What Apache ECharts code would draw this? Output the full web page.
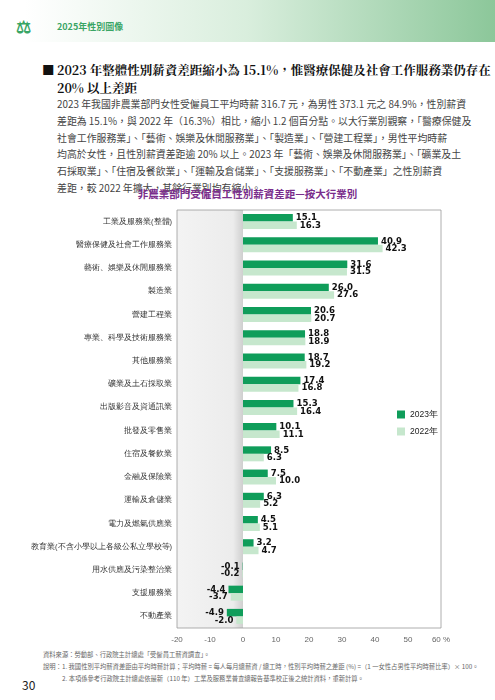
<!DOCTYPE html>
<html><head><meta charset="utf-8">
<script src="https://cdn.jsdelivr.net/npm/echarts@6/dist/echarts.min.js"></script>
<style>
body{margin:0;width:495px;height:700px;position:relative;background:#fff;font-family:"Noto Sans CJK TC",sans-serif;overflow:hidden}
.hdr{position:absolute;left:0;top:0;width:495px;height:42px;background:linear-gradient(90deg,#fff 5%,#d9eedd 50%,#8cc79a 100%)}
.hdr span{position:absolute;left:57px;top:20px;font-size:9px;color:#3aa565;font-weight:bold}
.logo{position:absolute;left:16px;top:13px;font-size:17px;color:#3aa565;font-weight:bold}
.ttl{position:absolute;left:57px;top:61px;width:410px;font-family:"Noto Serif CJK TC","Noto Sans CJK TC",serif;font-weight:bold;font-size:12.5px;line-height:18px;color:#111;white-space:nowrap}
.ttl b{position:absolute;left:-15px;top:0}
.txt{position:absolute;left:57px;top:96px;font-size:9.9px;line-height:16.8px;color:#444;white-space:nowrap}
.ctl{position:absolute;left:0;width:495px;top:186px;text-align:center;font-size:10.5px;font-weight:bold;color:#7a2d8c}
#c{position:absolute;left:0;top:205px;width:495px;height:445px}
.note{position:absolute;left:43px;font-size:6.3px;color:#666;white-space:nowrap}
.pg{position:absolute;left:22px;top:676px;font-size:12px;color:#222}
</style></head><body>
<div class="hdr"><div class="logo">⚖</div><span>2025年性別圖像</span></div>
<div class="ttl"><b>■</b>2023 年整體性別薪資差距縮小為 15.1%，惟醫療保健及社會工作服務業仍存在<br>20% 以上差距</div>
<div class="txt">2023 年我國非農業部門女性受僱員工平均時薪 316.7 元，為男性 373.1 元之 84.9%，性別薪資<br>差距為 15.1%，與 2022 年（16.3%）相比，縮小 1.2 個百分點。以大行業別觀察，「醫療保健及<br>社會工作服務業」、「藝術、娛樂及休閒服務業」、「製造業」、「營建工程業」，男性平均時薪<br>均高於女性，且性別薪資差距逾 20% 以上。2023 年「藝術、娛樂及休閒服務業」、「礦業及土<br>石採取業」、「住宿及餐飲業」、「運輸及倉儲業」、「支援服務業」、「不動產業」之性別薪資<br>差距，較 2022 年擴大，其餘行業別均有縮小。</div>
<div class="ctl">非農業部門受僱員工性別薪資差距—按大行業別</div>
<div id="c"></div>
<div class="note" style="top:650px">資料來源：勞動部、行政院主計總處「受僱員工薪資調查」。</div>
<div class="note" style="top:662px">說明：1. 我國性別平均薪資差距由平均時薪計算；平均時薪 = 每人每月總薪資 / 總工時，性別平均時薪之差距 (%) =（1 一女性占男性平均時薪比率）× 100。</div>
<div class="note" style="top:674px;left:62px">2. 本項係參考行政院主計總處依最新（110 年）工業及服務業普查總報告基準校正後之統計資料，重新計算。</div>
<div class="pg">30</div>
<script>
const categories = ['工業及服務業(整體)','醫療保健及社會工作服務業','藝術、娛樂及休閒服務業','製造業','營建工程業','專業、科學及技術服務業','其他服務業','礦業及土石採取業','出版影音及資通訊業','批發及零售業','住宿及餐飲業','金融及保險業','運輸及倉儲業','電力及燃氣供應業','教育業(不含小學以上各級公私立學校等)','用水供應及污染整治業','支援服務業','不動產業'];
const y2023 = [15.1,40.9,31.6,26.0,20.6,18.8,18.7,17.4,15.3,10.1,8.5,7.5,6.3,4.5,3.2,-0.1,-4.4,-4.9];
const y2022 = [16.3,42.3,31.5,27.6,20.7,18.9,19.2,16.8,16.4,11.1,6.3,10.0,5.2,5.1,4.7,-0.2,-3.7,-2.0];
const xTicks = [-20,-10,0,10,20,30,40,50,60];

const chart = echarts.init(document.getElementById('c'));
function mk(arr){
  return arr.map(v => ({value:v, label:{position: v < 0 ? 'left' : 'right'}}));
}
const lbl = {show:true, fontSize:9.5, fontWeight:'bold', color:'#111', fontFamily:'DejaVu Sans Condensed, sans-serif', distance:3, formatter:p => p.value.toFixed(1)};
chart.setOption({
  animation:false,
  grid:{left:177,right:54,top:5,bottom:22},
  legend:{orient:'vertical',left:392,top:200,itemWidth:8,itemHeight:8,itemGap:8,icon:'rect',textStyle:{fontSize:8.5,color:'#222'},data:['2023年','2022年']},
  xAxis:{type:'value',min:xTicks[0],max:xTicks[xTicks.length-1],interval:10,splitLine:{show:false},axisLine:{show:false},axisTick:{show:false},
    axisLabel:{fontSize:8,color:'#666',margin:8,formatter:v => v===60 ? '60 %' : v}},
  yAxis:{type:'category',inverse:true,data:categories,axisTick:{show:false},axisLine:{show:false},
    axisLabel:{fontSize:7.5,color:'#333',margin:5}},
  series:[
    {name:'2023年',type:'bar',data:mk(y2023),barWidth:7.5,barGap:'0%',itemStyle:{color:'#0f9d5a'},label:lbl,
     markArea:{silent:true,itemStyle:{color:{type:'linear',x:0,y:0,x2:1,y2:0,colorStops:[{offset:0,color:'#f3f3f3'},{offset:0.85,color:'#ececec'},{offset:1,color:'#cfcfcf'}]}},
       data:[[{xAxis:-20},{xAxis:0}]]}},
    {name:'2022年',type:'bar',data:mk(y2022),barWidth:7.5,itemStyle:{color:'#c6e7cd'},label:lbl,
     markArea:{silent:true,itemStyle:{color:'rgba(0,0,0,0)',borderColor:'#999',borderWidth:0.8},data:[[{xAxis:-20},{xAxis:60}]]}}
  ]
});
</script>
</body></html>
